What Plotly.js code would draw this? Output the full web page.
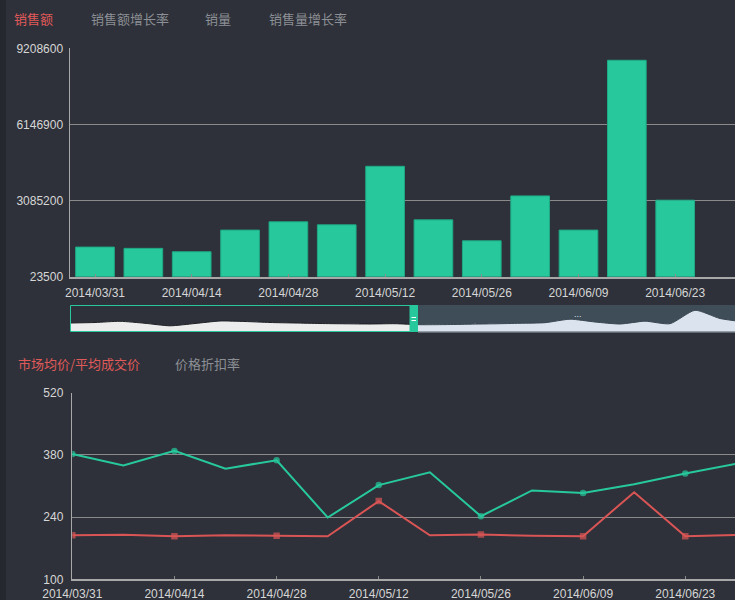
<!DOCTYPE html>
<html><head><meta charset="utf-8">
<script src="https://cdn.plot.ly/plotly-3.0.1.min.js"></script>
<style>html,body{margin:0;padding:0;background:#2e3139;overflow:hidden}#chart{width:735px;height:600px}</style>
</head><body><div id="chart"></div><script>
// ---- data ----
const weeks = ['2014/03/31','2014/04/07','2014/04/14','2014/04/21','2014/04/28','2014/05/05','2014/05/12',
               '2014/05/19','2014/05/26','2014/06/02','2014/06/09','2014/06/16','2014/06/23','2014/06/30'];
const salesAmount = [1214500,1162600,1026200,1896600,2229500,2109200,4463500,2309800,1467400,3272400,1896600,8727300,3099900,null];
const salesTicks = [23500,3085200,6146900,9208600];
const marketPrice = [382,356,389,349,368,239,312,341,242,300,294,314,338,360];
const dealPrice = [199,200,197,199,198,197,276,199,201,198,197,296,197,200];
const priceTicks = [100,240,380,520];
const previewValues = [9,9.5,10.7,8.7,6.2,8.5,11,10.5,9.5,9,8.5,8.2,8,8.3,7.3,7.4,7.8,8.2,8.7,9.3,12.8,10,8,10.8,8.3,21.7,13.5,10];
const topTabs = ['销售额','销售额增长率','销量','销售量增长率'];
const bottomTabs = ['市场均价/平均成交价','价格折扣率'];

// ---- layout helpers (pixel -> paper) ----
const W = 735, H = 600;
const px = x => x / W;
const py = y => 1 - y / H;
const BG = '#2e3139', GREEN = '#27c99c', RED = '#d95555', GRID = '#8a8a8a', AXIS = '#a8a8a8', TXT = '#d6d6d6';
const labelWeeks = weeks.filter((w, i) => i % 2 === 0);
const markerSizes = weeks.map((w, i) => i % 2 === 0 ? 6.5 : 0);
const previewIdx = previewValues.map((v, i) => i);

const traces = [
  {type:'bar', x: weeks, y: salesAmount, xaxis:'x', yaxis:'y',
   marker:{color: GREEN, line:{color:'#1fa985', width:1}}, hoverinfo:'skip'},
  {type:'scatter', mode:'lines', x: previewIdx, y: previewValues, xaxis:'x4', yaxis:'y4',
   fill:'tozeroy', fillcolor:'#ececec', line:{color:'#1f2126', width:1, shape:'spline', smoothing:0.6}, hoverinfo:'skip'},
  {type:'scatter', mode:'lines', x: previewIdx, y: previewValues, xaxis:'x5', yaxis:'y5',
   fill:'tozeroy', fillcolor:'#dbe4ee', line:{color:'#3a4752', width:1, shape:'spline', smoothing:0.6}, hoverinfo:'skip'},
  {type:'scatter', mode:'lines+markers', x: weeks, y: marketPrice, xaxis:'x3', yaxis:'y3',
   line:{color: GREEN, width:2}, marker:{color: GREEN, size: markerSizes, symbol:'circle', line:{width:0}}, cliponaxis:true, hoverinfo:'skip'},
  {type:'scatter', mode:'lines+markers', x: weeks, y: dealPrice, xaxis:'x3', yaxis:'y3',
   line:{color: RED, width:2}, marker:{color: RED, size: markerSizes, symbol:'square', line:{width:0}}, cliponaxis:true, hoverinfo:'skip'}
];

const tickFont = {family:'Liberation Sans, Arial, sans-serif', size:12, color: TXT};
const cjk = 'Noto Sans CJK SC, sans-serif';

const layout = {
  width: W, height: H, margin:{l:0, r:0, t:0, b:0},
  paper_bgcolor: BG, plot_bgcolor: 'rgba(0,0,0,0)', showlegend:false, bargap:0.2,
  font:{family:'Liberation Sans, Arial, sans-serif', color: TXT},
  xaxis:{domain:[px(70),1], anchor:'y', type:'category', categoryorder:'array', categoryarray: weeks,
         range:[-0.517, 13.237], tickvals: labelWeeks, ticktext: labelWeeks, tickfont: tickFont,
         showgrid:false, showline:true, linecolor: AXIS, linewidth:2, ticks:'inside', ticklen:3, tickcolor: GRID,
         ticklabelstandoff:4, zeroline:false},
  yaxis:{domain:[py(276.7), py(48.3)], anchor:'x', range:[salesTicks[0], salesTicks[salesTicks.length-1]],
         tickvals: salesTicks, ticktext: salesTicks.map(String), tickfont: tickFont,
         showgrid:true, gridcolor: GRID, gridwidth:1, showline:true, linecolor: AXIS, linewidth:1.5,
         ticks:'', ticklabelstandoff:3, zeroline:false},
  xaxis3:{domain:[px(72.3),1], anchor:'y3', type:'category', categoryorder:'array', categoryarray: weeks,
          range:[0, 12.974], tickvals: labelWeeks, ticktext: labelWeeks, tickfont: tickFont,
          showgrid:false, showline:true, linecolor: AXIS, linewidth:2, ticks:'inside', ticklen:3, tickcolor: GRID,
          ticklabelstandoff:2, zeroline:false},
  yaxis3:{domain:[py(579.3), py(392.7)], anchor:'x3', range:[priceTicks[0], priceTicks[priceTicks.length-1]],
          tickvals: priceTicks, ticktext: priceTicks.map(String), tickfont: tickFont,
          showgrid:true, gridcolor: GRID, gridwidth:1, showline:true, linecolor: AXIS, linewidth:1.5,
          ticks:'', ticklabelstandoff:5, zeroline:false},
  xaxis4:{domain:[px(71), px(410)], anchor:'y4', range:[(71-70)/25, (410-70)/25], visible:false, fixedrange:true},
  yaxis4:{domain:[py(331.5), py(305.5)], anchor:'x4', range:[0.5, 26.5], visible:false, fixedrange:true},
  xaxis5:{domain:[px(418), 1], anchor:'y5', range:[(418-70)/25, (735-70)/25], visible:false, fixedrange:true},
  yaxis5:{domain:[py(331.5), py(305.5)], anchor:'x5', range:[0.5, 26.5], visible:false, fixedrange:true},
  shapes:[
    {type:'rect', xref:'paper', yref:'paper', x0:0, x1:px(6), y0:0, y1:1, fillcolor:'#25282e', line:{width:0}, layer:'below'},
    {type:'rect', xref:'paper', yref:'paper', x0:px(418), x1:1, y0:py(332), y1:py(305), fillcolor:'#3f4d59', line:{width:0}, layer:'below'},
    {type:'line', xref:'paper', yref:'paper', x0:px(418), x1:1, y0:py(332), y1:py(332), line:{color:'#9aa3ab', width:1}},
    {type:'rect', xref:'paper', yref:'paper', x0:px(70.5), x1:px(410), y0:py(331.5), y1:py(305.5), fillcolor:'rgba(0,0,0,0)', line:{color: GREEN, width:1}},
    {type:'rect', xref:'paper', yref:'paper', x0:px(410), x1:px(418), y0:py(332), y1:py(305), fillcolor: GREEN, line:{width:0}},
    {type:'line', xref:'paper', yref:'paper', x0:px(411.5), x1:px(416), y0:py(317.5), y1:py(317.5), line:{color:'#ffffff', width:1}},
    {type:'line', xref:'paper', yref:'paper', x0:px(411.5), x1:px(416), y0:py(320.5), y1:py(320.5), line:{color:'#ffffff', width:1}}
  ],
  annotations: [
    ...topTabs.map((t, i) => ({text: t, xref:'paper', yref:'paper', x: px([12,89,203,266.5][i]), y: py(18),
      xanchor:'left', yanchor:'middle', showarrow:false, font:{family: cjk, size:13, color: i === 0 ? '#e05a5a' : '#8c8f95'}})),
    ...bottomTabs.map((t, i) => ({text: t, xref:'paper', yref:'paper', x: px([15.5,173][i]), y: py(363.5),
      xanchor:'left', yanchor:'middle', showarrow:false, font:{family: cjk, size:13, color: i === 0 ? '#e05a5a' : '#8c8f95'}})),
    {text:'...', xref:'paper', yref:'paper', x: px(578), y: py(314), xanchor:'center', yanchor:'middle', showarrow:false,
     font:{family:'Liberation Sans, Arial, sans-serif', size:9, color:'#dbe4ee'}}
  ]
};

Plotly.newPlot('chart', traces, layout, {staticPlot:true, displayModeBar:false});
</script></body></html>
